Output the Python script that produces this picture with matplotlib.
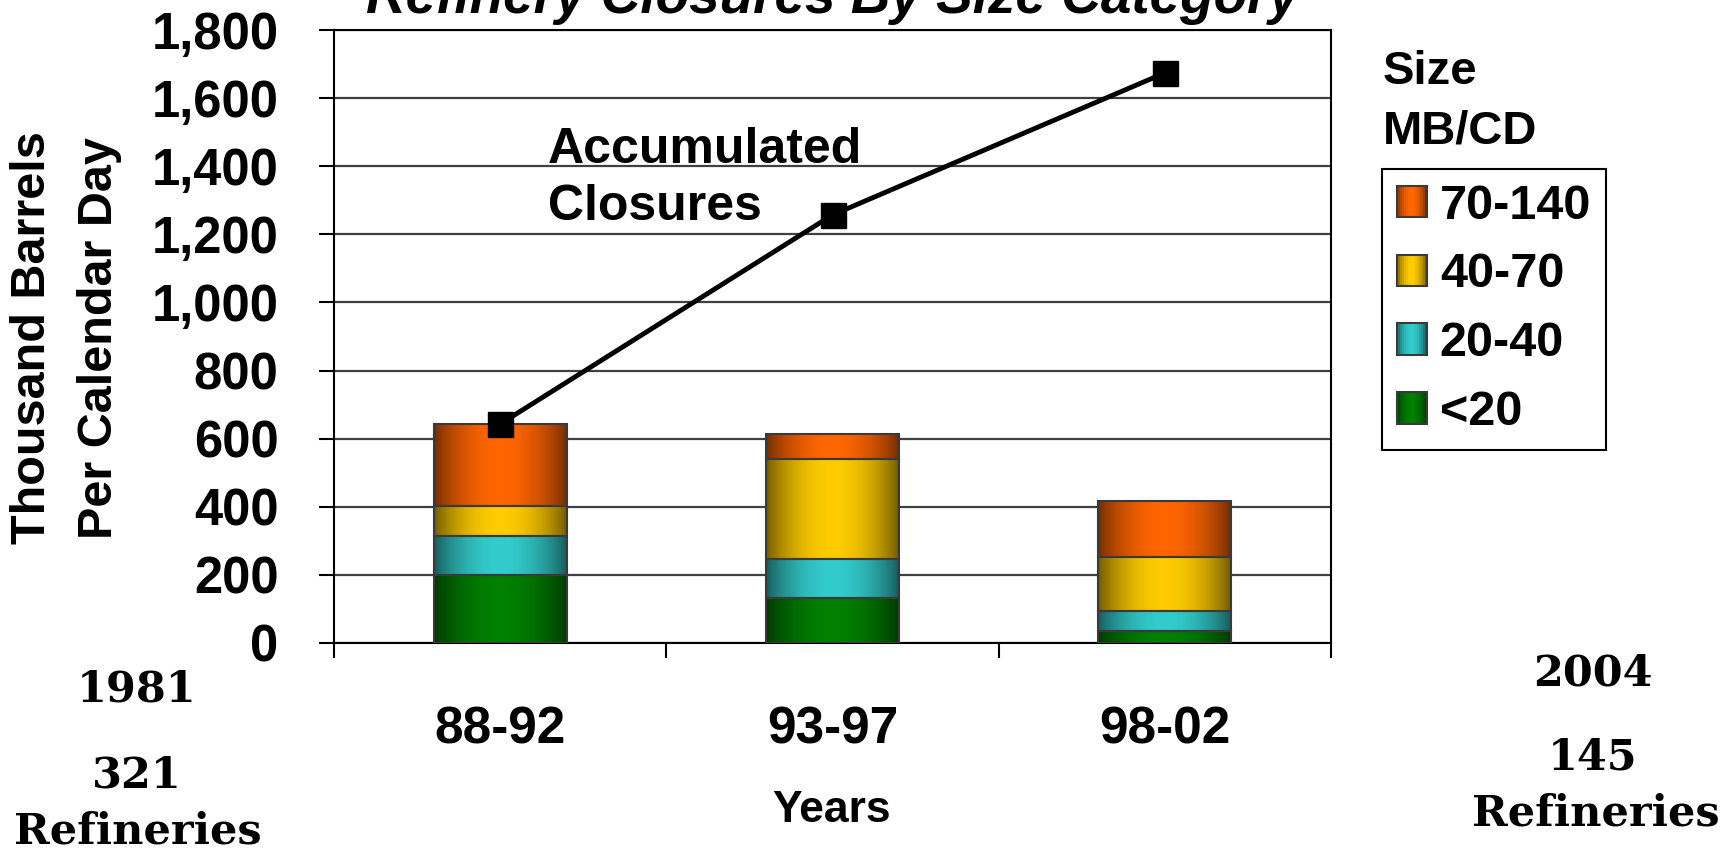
import numpy as np
import matplotlib
matplotlib.use('Agg')
import matplotlib.pyplot as plt
from matplotlib.colors import to_rgb
from matplotlib.patches import Rectangle, Patch
from matplotlib.legend_handler import HandlerBase
from matplotlib.ticker import FuncFormatter

# closures (thousand barrels per calendar day) by refinery size class
periods = ['88-92', '93-97', '98-02']
size_classes = ['<20', '20-40', '40-70', '70-140']
closed_lt20 = [200, 133, 36]
closed_20_40 = [114, 114, 59]
closed_40_70 = [88, 293, 157]
closed_70_140 = [241, 74, 165]
class_colors = ['#008000', '#33CCCC', '#FFCC00', '#FF6600']

start_year, start_count = 1981, 321
end_year, end_count = 2004, 145

plt.rcParams['font.family'] = ['Liberation Sans', 'DejaVu Sans']
plt.rcParams['font.weight'] = 'bold'

W, H = 1736, 849


def shade(color, n=64, edge=0.45):
    '''dark-light-dark horizontal ramp of a colour
    '''
    rgb = np.array(to_rgb(color))
    t = np.linspace(0, 1, n)
    f = edge + (1 - edge) * np.sin(np.pi * t) ** 0.8
    return rgb[None, :] * f[:, None]


class GradientHandler(HandlerBase):
    '''legend key drawn as shaded strips
    '''
    def create_artists(self, legend, orig_handle, xdescent, ydescent,
                       width, height, fontsize, trans):
        cols = shade(orig_handle.get_facecolor()[:3], n=16)
        arts = []
        n = len(cols)
        for i, c in enumerate(cols):
            arts.append(Rectangle((-xdescent + i * width / n, -ydescent),
                                  width / n + 0.3, height, facecolor=c,
                                  edgecolor='none', transform=trans))
        arts.append(Rectangle((-xdescent, -ydescent), width, height,
                              facecolor='none', edgecolor='#3a3a3a',
                              linewidth=1.5, transform=trans))
        return arts


fig = plt.figure(figsize=(W / 100, H / 100), dpi=100)
ax = fig.add_axes([334 / W, 1 - 643 / H, (1331 - 334) / W, (643 - 30) / H])

x = np.arange(len(periods))
series = [closed_lt20, closed_20_40, closed_40_70, closed_70_140]
bottom = np.zeros(len(periods))
for vals, color in zip(series, class_colors):
    bars = ax.bar(x, vals, 0.4, bottom=bottom, facecolor='none',
                  edgecolor='#3a3a3a', linewidth=1.5, zorder=3)
    for b in bars:
        ax.imshow(shade(color)[None], aspect='auto', interpolation='bilinear',
                  extent=[b.get_x(), b.get_x() + b.get_width(),
                          b.get_y(), b.get_y() + b.get_height()], zorder=2)
    bottom += vals

accumulated = np.cumsum(bottom)
ax.plot(x, accumulated, color='black', lw=3.5, marker='s', ms=18, zorder=5)

ax.set_xlim(-0.5, 2.5)
ax.set_ylim(0, 1800)
ax.set_yticks(np.arange(0, 1801, 200))
ax.yaxis.set_major_formatter(FuncFormatter(lambda v, p: f'{v:,.0f}'))
ax.yaxis.grid(True, color='#404040', lw=1.6)
ax.set_axisbelow(True)
ax.tick_params(axis='y', direction='out', length=11, width=1.5, pad=29,
               labelsize=36.5)
ax.set_xticks(x)
ax.set_xticklabels(periods)
ax.tick_params(axis='x', which='major', length=0, pad=45, labelsize=37)
ax.set_xticks([-0.5, 0.5, 1.5, 2.5], minor=True)
ax.tick_params(axis='x', which='minor', direction='out', length=11, width=1.5)
for s in ax.spines.values():
    s.set_linewidth(1.5)
    s.set_color('black')

fig.text(832 / W, 1 - 13 / H, 'Refinery Closures By Size Category',
         ha='center', va='baseline', size=39.5, style='italic')
fig.text(832 / W, 1 - 822 / H, 'Years', ha='center', va='baseline', size=32)
fig.text(33 / W, 1 - 338 / H, 'Thousand Barrels', rotation=90,
         ha='center', va='center', size=35)
fig.text(100 / W, 1 - 338 / H, 'Per Calendar Day', rotation=90,
         ha='center', va='center', size=35)
fig.text(548 / W, 1 - 163 / H, 'Accumulated', va='baseline', size=36)
fig.text(548 / W, 1 - 220 / H, 'Closures', va='baseline', size=36)

# legend with its heading above the box
fig.text(1383 / W, 1 - 84 / H, 'Size', va='baseline', size=34)
fig.text(1383 / W, 1 - 143 / H, 'MB/CD', va='baseline', size=34)
handles = [Patch(facecolor=c) for c in class_colors][::-1]
leg = fig.legend(handles, size_classes[::-1], loc='upper left',
                 bbox_to_anchor=(1382 / W, 1 - 169 / H), frameon=True,
                 fancybox=False, edgecolor='black', framealpha=1,
                 fontsize=35, handlelength=0.62, handleheight=0.62,
                 handletextpad=0.27, labelspacing=0.49, borderpad=0.3,
                 borderaxespad=0, handler_map={Patch: GradientHandler()})
leg.get_frame().set_linewidth(1.5)

serif = dict(ha='center', va='baseline', family='DejaVu Serif',
             weight='bold', size=31)
fig.text(137 / W, 1 - 702 / H, str(start_year), **serif)
fig.text(137 / W, 1 - 787 / H, str(start_count), **serif)
fig.text(138 / W, 1 - 843 / H, 'Refineries', **serif)
fig.text(1593 / W, 1 - 685 / H, str(end_year), **serif)
fig.text(1593 / W, 1 - 770 / H, str(end_count), **serif)
fig.text(1596 / W, 1 - 825 / H, 'Refineries', **serif)

fig.savefig('out.png', dpi=100)
